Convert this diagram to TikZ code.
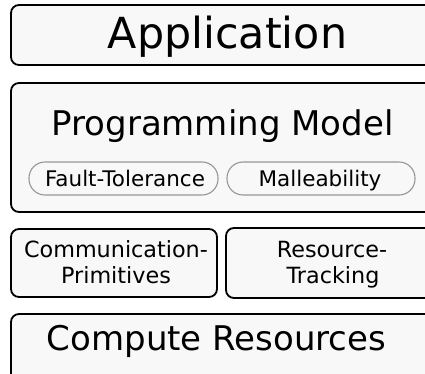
\documentclass[tikz,border=0pt]{standalone}
\usepackage{fontspec}
\setmainfont{DejaVu Sans}
\definecolor{boxfill}{HTML}{F8F8F8}
\definecolor{pillline}{HTML}{969696}
\begin{document}
\begin{tikzpicture}[x=1pt,y=-1pt,
  layer/.style={draw=black, line width=1.8pt, fill=boxfill, rounded corners=8pt,
    rectangle, inner sep=0pt},
  pill/.style={draw=pillline, line width=1.1pt, fill=boxfill, rounded corners=16pt,
    rectangle, inner sep=0pt},
  big/.style={font=\fontsize{42.8}{50}\selectfont, inner sep=0pt, anchor=base},
  mid/.style={font=\fontsize{34}{40}\selectfont, inner sep=0pt, anchor=base},
  small/.style={font=\fontsize{22.3}{26}\selectfont, inner sep=0pt, anchor=base},
  tiny/.style={font=\fontsize{21.5}{25}\selectfont, inner sep=0pt, anchor=base}]
\useasboundingbox (0,0) rectangle (425,373);
\clip (0,0) rectangle (425,373);

% stacked layers
\node[layer, minimum width=433, minimum height=60] (app) at (227.5,35) {};
\node[layer, minimum width=429, minimum height=129] (pm) at (225.5,147.5) {};
\node[layer, minimum width=206, minimum height=68] (comm) at (114,263) {};
\node[layer, minimum width=214, minimum height=70] (track) at (333,263) {};
\node[layer, minimum width=429, minimum height=80] (res) at (225.5,354) {};

% features of the programming model
\node[pill, minimum width=189, minimum height=33] (ft) at (123.5,178.5) {};
\node[pill, minimum width=188, minimum height=33] (mal) at (321,178.5) {};

% labels
\node[big] (appl) at (227.5,48) {Application};
\node[mid] (pml) at (222.5,135) {Programming Model};
\node[tiny] (ftl) at (125,186) {Fault-Tolerance};
\node[tiny] (mall) at (320,186) {Malleability};
\node[small] (comml1) at (116,257) {Communication-};
\node[small] (comml2) at (116,283) {Primitives};
\node[small] (trackl1) at (332,257) {Resource-};
\node[small] (trackl2) at (333,283) {Tracking};
\node[mid] (resl) at (216.5,350) {Compute Resources};
\end{tikzpicture}
\end{document}
